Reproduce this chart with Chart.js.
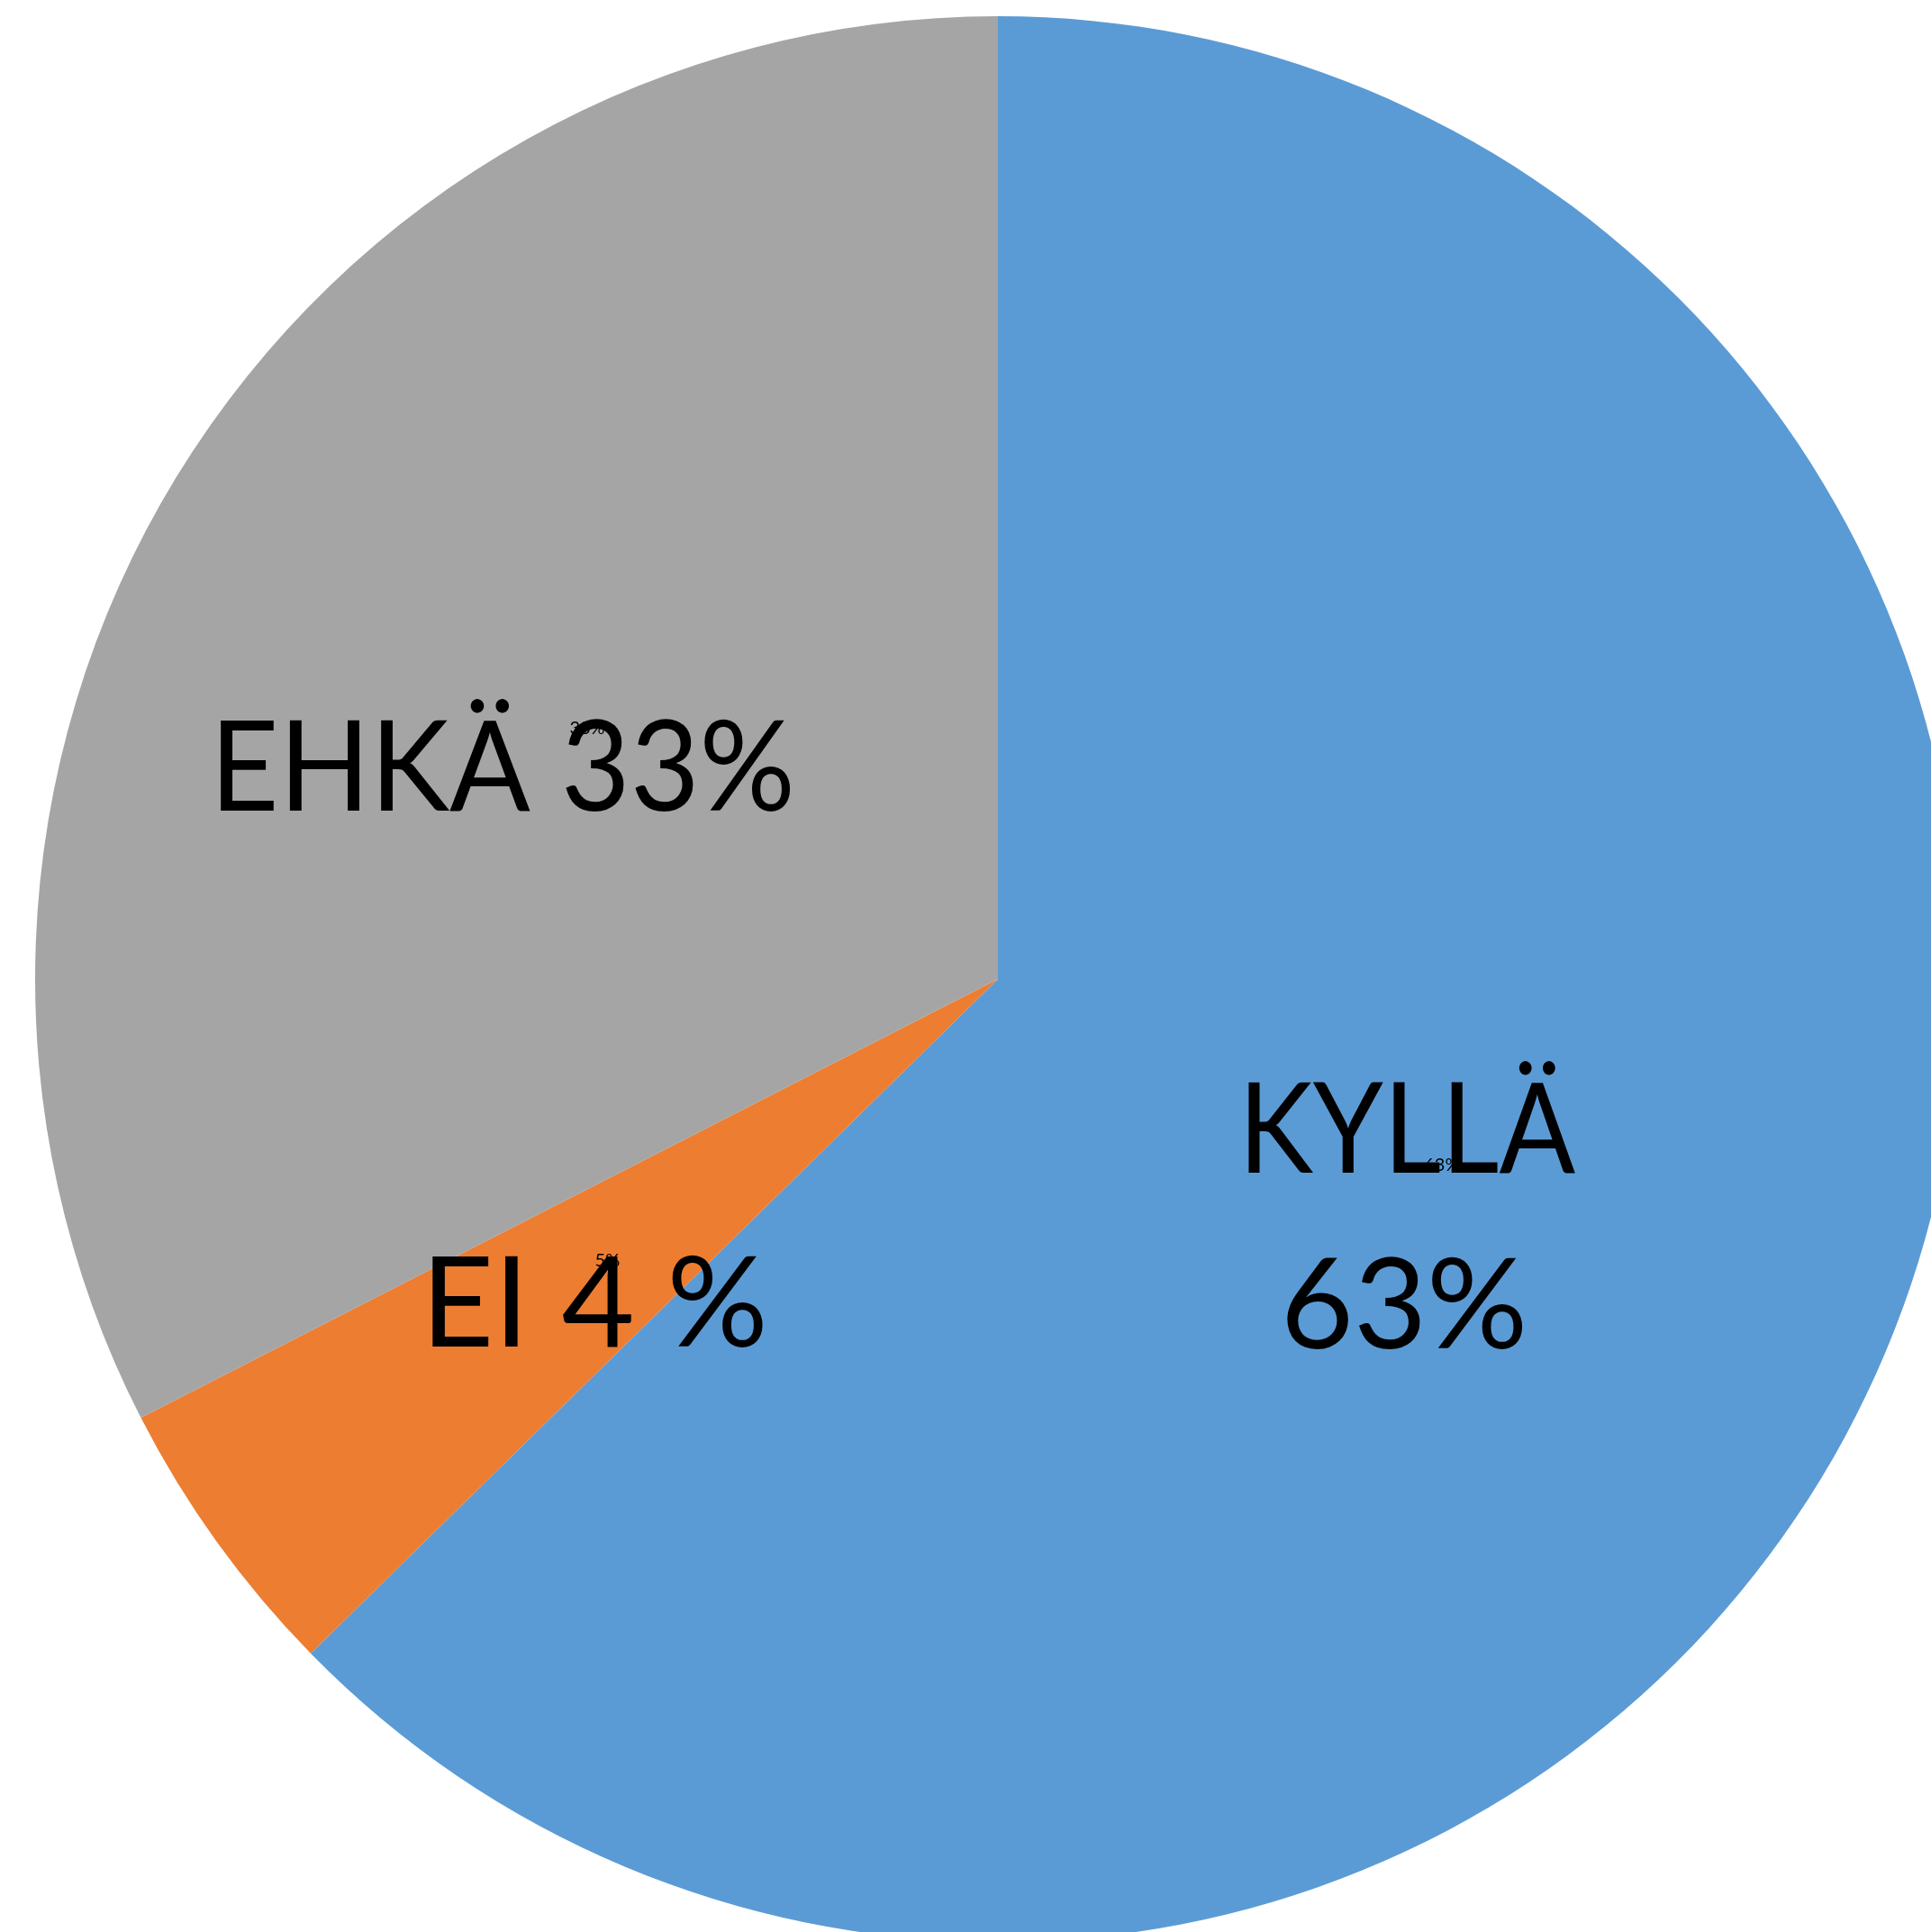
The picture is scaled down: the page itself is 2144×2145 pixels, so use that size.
<!DOCTYPE html>
<html>
<head>
    <title>KYLLÄ / EI / EHKÄ</title>
    <script src="https://cdn.jsdelivr.net/npm/chart.js"></script>
    <style>
        html, body {
            margin: 0;
            padding: 0;
            width: 2144px;
            height: 2145px;
            overflow: hidden;
            background: #fff;
        }

        .chart-container {
            position: absolute;
            left: 0;
            top: 0;
            width: 2216px;
            height: 2174px;
        }
    </style>
</head>
<body>

    <div class="chart-container">
        <canvas id="pieChart"></canvas>
    </div>

    <script>
        // answer counts (labels show 63 %, 5 %, 33 %)
        const categories = ['KYLLÄ', 'EI', 'EHKÄ'];
        const counts = [52, 4, 27];
        const sliceColors = ['#5B9BD5', '#ED7D31', '#A5A5A5'];

        // big text boxes written over the slices
        const bigLabels = [
            ['KYLLÄ', '63%'],
            ['EI 4 %'],
            ['EHKÄ 33%']
        ];

        // where each big text box sits, in radius units from the pie centre:
        // x, baseline y, max width (null = natural width)
        const bigLabelSpots = [
            [[0.4247, 0.2011, 0.35], [0.4219, 0.3835, null]],
            [[-0.419, 0.3817, null]],
            [[-0.5145, -0.175, 0.608]]
        ];

        const total = counts.reduce((a, b) => a + b, 0);

        const pieLabels = {
            id: 'pieLabels',
            afterDatasetsDraw(chart) {
                const ctx = chart.ctx;
                const arcs = chart.getDatasetMeta(0).data;
                ctx.save();
                ctx.fillStyle = '#000';
                ctx.textAlign = 'center';

                // small default data labels
                ctx.font = '20px Lato, "DejaVu Sans", sans-serif';
                ctx.textBaseline = 'middle';
                arcs.forEach((arc, i) => {
                    const p = arc.tooltipPosition();
                    ctx.fillText(Math.round(counts[i] / total * 100) + '%', p.x, p.y);
                });

                // big labels
                ctx.font = '140px Lato, "DejaVu Sans", sans-serif';
                ctx.textBaseline = 'alphabetic';
                arcs.forEach((arc, i) => {
                    const r = arc.outerRadius;
                    bigLabels[i].forEach((line, j) => {
                        const s = bigLabelSpots[i][j];
                        if (s[2]) {
                            ctx.fillText(line, arc.x + s[0] * r, arc.y + s[1] * r, s[2] * r);
                        } else {
                            ctx.fillText(line, arc.x + s[0] * r, arc.y + s[1] * r);
                        }
                    });
                });
                ctx.restore();
            }
        };

        const ctx = document.getElementById('pieChart').getContext('2d');
        new Chart(ctx, {
            type: 'pie',
            data: {
                labels: categories,
                datasets: [{
                    data: counts,
                    backgroundColor: sliceColors,
                    borderWidth: 0
                }]
            },
            options: {
                responsive: true,
                maintainAspectRatio: false,
                animation: false,
                layout: {
                    padding: { left: 39, right: 39, top: 18, bottom: 18 }
                },
                plugins: {
                    legend: { display: false },
                    tooltip: { enabled: false }
                }
            },
            plugins: [pieLabels]
        });
    </script>
</body>
</html>
